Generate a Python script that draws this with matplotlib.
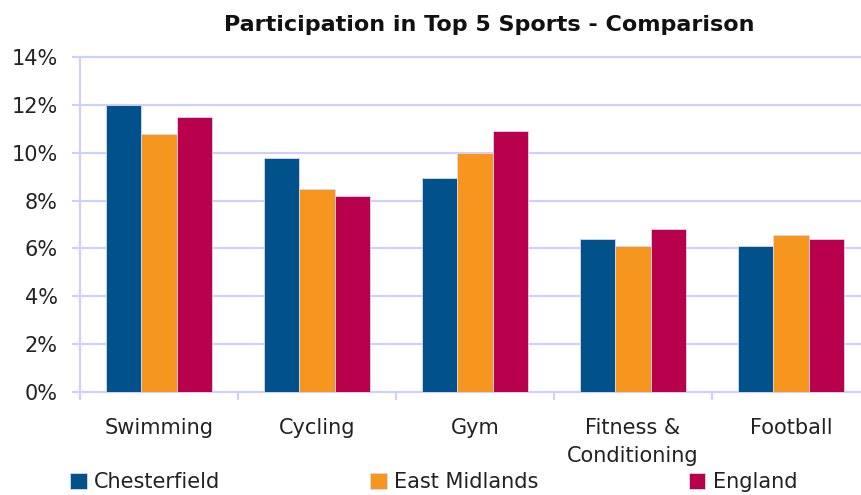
import numpy as np
import matplotlib
matplotlib.use('Agg')
import matplotlib.pyplot as plt
from matplotlib.ticker import FuncFormatter, FixedLocator

# Chart data (percent participation)
sports = ['Swimming', 'Cycling', 'Gym', 'Fitness &\nConditioning', 'Football']
chesterfield = [12.0, 9.8, 8.95, 6.4, 6.1]
east_midlands = [10.8, 8.5, 10.0, 6.1, 6.55]
england = [11.5, 8.2, 10.9, 6.8, 6.4]

series = ['Chesterfield', 'East Midlands', 'England']
colors = ['#01528A', '#F7961E', '#B8004C']
grid_col = '#CFCFFF'

plt.rcParams['font.family'] = 'DejaVu Sans'

fig = plt.figure(figsize=(8.61, 4.95), dpi=100)
W, H = 861, 495
# axes from x=80 to beyond right edge (last group is clipped), y=57..392
ax = fig.add_axes([80 / W, 1 - 392 / H, (861 - 80) / W, (392 - 57) / H])

x = np.arange(len(sports))
bw = 0.224
for i, (name, vals) in enumerate(zip(series, [chesterfield, east_midlands, england])):
    ax.bar(x + (i - 1) * bw, vals, width=bw, color=colors[i], label=name,
           edgecolor='#D8D8F0', linewidth=0.6, zorder=3)

ax.set_ylim(0, 14)
ax.set_xlim(-0.5, -0.5 + (861 - 80) / 158)
ax.set_yticks(np.arange(0, 15, 2))
ax.yaxis.set_major_formatter(FuncFormatter(lambda v, p: f'{int(v)}%'))
ax.grid(axis='y', color=grid_col, linewidth=1.5, zorder=0)
for gl in ax.get_ygridlines():
    gl.set_clip_on(False)

ax.set_xticks(x)
ax.set_xticklabels(sports, linespacing=1.5)
ax.xaxis.set_minor_locator(FixedLocator(np.arange(-0.5, 5.0, 1.0)))
ax.tick_params(axis='x', which='major', length=0, pad=19, labelsize=15, labelcolor='#222222')
ax.tick_params(axis='x', which='minor', length=6, width=1.5, color=grid_col)
ax.tick_params(axis='y', length=6, width=1.5, color=grid_col, pad=10,
               labelsize=15, labelcolor='#222222')

for s in ['top', 'right']:
    ax.spines[s].set_visible(False)
for s in ['left', 'bottom']:
    ax.spines[s].set_color(grid_col)
    ax.spines[s].set_linewidth(1.5)

fig.text(489 / W, 1 - 25 / H, 'Participation in Top 5 Sports - Comparison',
         ha='center', va='center', fontsize=16, fontweight='bold', color='#111111')

handles, labels = ax.get_legend_handles_labels()
fig.legend(handles, labels, loc='center left', bbox_to_anchor=(70 / W, 1 - 482 / H),
           ncol=3, frameon=False, fontsize=15, handlelength=0.8, handleheight=0.8,
           handletextpad=0.35, columnspacing=7.2, borderpad=0, borderaxespad=0,
           labelcolor='#222222')

fig.savefig('out.png', dpi=100)
